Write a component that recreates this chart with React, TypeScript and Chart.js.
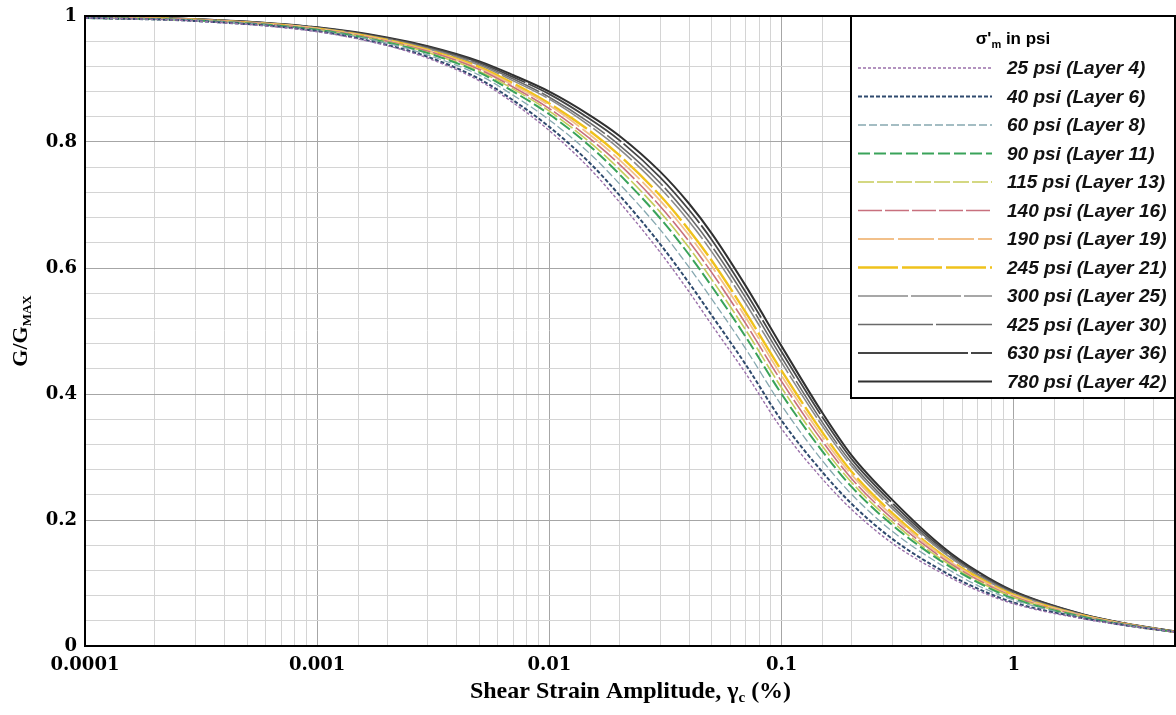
import React, { useEffect, useRef } from 'react';
import { Chart, registerables } from 'chart.js';

Chart.register(...registerables);

// Shear strain amplitude (%) at which values were read
const strains = [0.0001, 0.0003, 0.001, 0.002, 0.003, 0.005, 0.007, 0.01, 0.015, 0.02, 0.03, 0.04, 0.05, 0.07, 0.1, 0.15, 0.2, 0.3, 0.5, 0.7, 1, 2, 3, 5];

// G/Gmax per confining pressure
const g25 = [0.997, 0.992, 0.975, 0.953, 0.933, 0.897, 0.862, 0.818, 0.757, 0.705, 0.625, 0.562, 0.510, 0.433, 0.345, 0.265, 0.217, 0.163, 0.114, 0.088, 0.067, 0.043, 0.033, 0.022];
const g40 = [0.997, 0.992, 0.976, 0.954, 0.935, 0.900, 0.866, 0.824, 0.766, 0.716, 0.638, 0.576, 0.525, 0.447, 0.358, 0.276, 0.226, 0.170, 0.118, 0.091, 0.069, 0.044, 0.033, 0.022];
const g60 = [0.997, 0.993, 0.977, 0.957, 0.938, 0.906, 0.874, 0.835, 0.781, 0.734, 0.661, 0.601, 0.551, 0.472, 0.382, 0.294, 0.241, 0.182, 0.126, 0.096, 0.073, 0.045, 0.034, 0.022];
const g90 = [0.997, 0.993, 0.978, 0.958, 0.941, 0.910, 0.880, 0.844, 0.793, 0.749, 0.679, 0.621, 0.571, 0.491, 0.400, 0.309, 0.253, 0.192, 0.132, 0.101, 0.075, 0.046, 0.034, 0.022];
const g115 = [0.997, 0.993, 0.978, 0.959, 0.942, 0.912, 0.884, 0.849, 0.799, 0.757, 0.689, 0.632, 0.582, 0.502, 0.410, 0.317, 0.260, 0.197, 0.135, 0.103, 0.077, 0.046, 0.034, 0.022];
const g140 = [0.997, 0.994, 0.979, 0.960, 0.944, 0.915, 0.887, 0.853, 0.805, 0.765, 0.698, 0.642, 0.593, 0.512, 0.420, 0.325, 0.266, 0.202, 0.138, 0.105, 0.078, 0.047, 0.035, 0.022];
const g190 = [0.998, 0.994, 0.980, 0.961, 0.945, 0.917, 0.890, 0.858, 0.811, 0.772, 0.707, 0.652, 0.603, 0.522, 0.429, 0.332, 0.272, 0.207, 0.141, 0.107, 0.080, 0.048, 0.035, 0.022];
const g245 = [0.998, 0.994, 0.980, 0.962, 0.946, 0.919, 0.893, 0.861, 0.817, 0.779, 0.715, 0.660, 0.612, 0.530, 0.437, 0.339, 0.277, 0.211, 0.143, 0.109, 0.081, 0.048, 0.035, 0.022];
const g300 = [0.998, 0.994, 0.981, 0.963, 0.948, 0.922, 0.897, 0.868, 0.825, 0.789, 0.727, 0.674, 0.626, 0.544, 0.450, 0.349, 0.286, 0.218, 0.148, 0.112, 0.083, 0.049, 0.035, 0.022];
const g425 = [0.998, 0.995, 0.981, 0.964, 0.949, 0.924, 0.900, 0.871, 0.830, 0.795, 0.735, 0.682, 0.635, 0.553, 0.458, 0.355, 0.291, 0.222, 0.150, 0.114, 0.084, 0.049, 0.036, 0.022];
const g630 = [0.998, 0.995, 0.982, 0.965, 0.951, 0.926, 0.903, 0.876, 0.836, 0.803, 0.744, 0.692, 0.645, 0.562, 0.467, 0.363, 0.297, 0.227, 0.153, 0.116, 0.086, 0.050, 0.036, 0.023];
const g780 = [0.998, 0.995, 0.982, 0.966, 0.952, 0.928, 0.906, 0.880, 0.842, 0.810, 0.753, 0.702, 0.655, 0.572, 0.476, 0.370, 0.303, 0.232, 0.156, 0.118, 0.087, 0.050, 0.036, 0.023];

const seriesValues = [g25, g40, g60, g90, g115, g140, g190, g245, g300, g425, g630, g780];
const seriesLabels = [
  '25 psi (Layer 4)', '40 psi (Layer 6)', '60 psi (Layer 8)', '90 psi (Layer 11)',
  '115 psi (Layer 13)', '140 psi (Layer 16)', '190 psi (Layer 19)', '245 psi (Layer 21)',
  '300 psi (Layer 25)', '425 psi (Layer 30)', '630 psi (Layer 36)', '780 psi (Layer 42)',
];
const xTickLabels = ['0.0001', '0.001', '0.01', '0.1', '1'];
const yTickLabels = ['0', '0.2', '0.4', '0.6', '0.8', '1'];

// styles
const seriesColors = ['#9a70aa', '#2f4a6e', '#86a8b0', '#3aa35a', '#c6cc5a', '#c8707e', '#f2c08a', '#f0c21c', '#8a8a8a', '#6a6a6a', '#454545', '#303030'];
const seriesWidths = [1.4, 2, 1.3, 2, 1.6, 1.6, 1.8, 2.4, 1.6, 1.6, 1.8, 2];
const seriesDashes: number[][] = [[3, 2], [4, 2], [8, 3], [12, 4], [16, 3], [24, 3], [36, 4], [40, 4], [50, 3], [75, 3], [110, 3], []];

const TICK_FONT = { family: '"DejaVu Serif", serif', size: 18, weight: 'bold' as const };
const MAJOR_GRID = '#a6a6a6';
const MINOR_GRID = '#d4d4d4';

const overlayPlugin = {
  id: 'overlay',
  afterDraw(chart: any) {
    const { ctx, chartArea: a } = chart;
    ctx.save();
    ctx.setLineDash([]);
    // plot frame
    ctx.strokeStyle = '#000';
    ctx.lineWidth = 2;
    ctx.strokeRect(a.left, a.top, a.right - a.left - 1, a.bottom - a.top);

    // x axis title with subscript
    const cx = (a.left + a.right) / 2;
    const mainF = 'bold 24px "Liberation Serif", serif';
    const subF = 'bold 15px "Liberation Serif", serif';
    const t1 = 'Shear Strain Amplitude, \u03b3';
    const t2 = 'c';
    const t3 = ' (%)';
    ctx.fillStyle = '#000';
    ctx.textBaseline = 'alphabetic';
    ctx.textAlign = 'left';
    ctx.font = mainF; const w1 = ctx.measureText(t1).width; const w3 = ctx.measureText(t3).width;
    ctx.font = subF; const w2 = ctx.measureText(t2).width;
    const x0 = cx - (w1 + w2 + w3) / 2;
    const by = 698;
    ctx.font = mainF; ctx.fillText(t1, x0, by);
    ctx.font = subF; ctx.fillText(t2, x0 + w1, by + 4);
    ctx.font = mainF; ctx.fillText(t3, x0 + w1 + w2, by);

    // y axis title with subscript
    ctx.save();
    ctx.translate(20, 331);
    ctx.rotate(-Math.PI / 2);
    const yF = 'bold 22px "Liberation Serif", serif';
    const ySubF = 'bold 13px "Liberation Serif", serif';
    ctx.font = yF; const yw1 = ctx.measureText('G/G').width;
    ctx.font = ySubF; const yw2 = ctx.measureText('MAX').width;
    const ys = -(yw1 + yw2) / 2;
    ctx.textBaseline = 'alphabetic';
    ctx.font = yF; ctx.fillText('G/G', ys, 7);
    ctx.font = ySubF; ctx.fillText('MAX', ys + yw1, 11);
    ctx.restore();

    // legend box
    const lx0 = 851, ly0 = a.top, lx1 = a.right - 1, ly1 = 398;
    ctx.fillStyle = '#fff';
    ctx.fillRect(lx0, ly0, lx1 - lx0, ly1 - ly0);
    ctx.strokeStyle = '#000';
    ctx.lineWidth = 2;
    ctx.strokeRect(lx0, ly0, lx1 - lx0, ly1 - ly0);

    // legend title
    const ltF = 'bold 17px "Liberation Sans", Arial, sans-serif';
    const ltSubF = 'bold 11px "Liberation Sans", Arial, sans-serif';
    ctx.fillStyle = '#000';
    ctx.font = ltF; const lw1 = ctx.measureText("\u03c3'").width; const lw3 = ctx.measureText(' in psi').width;
    ctx.font = ltSubF; const lw2 = ctx.measureText('m').width;
    const lx = 1013 - (lw1 + lw2 + lw3) / 2;
    ctx.textBaseline = 'alphabetic';
    ctx.font = ltF; ctx.fillText("\u03c3'", lx, 44);
    ctx.font = ltSubF; ctx.fillText('m', lx + lw1, 48);
    ctx.font = ltF; ctx.fillText(' in psi', lx + lw1 + lw2, 44);

    // legend rows
    ctx.font = 'italic bold 19px "Liberation Sans", Arial, sans-serif';
    ctx.textBaseline = 'middle';
    seriesLabels.forEach((lab, i) => {
      const ry = 68 + i * 28.5;
      ctx.beginPath();
      ctx.strokeStyle = seriesColors[i];
      ctx.lineWidth = seriesWidths[i];
      ctx.setLineDash(seriesDashes[i]);
      ctx.moveTo(858, ry);
      ctx.lineTo(992, ry);
      ctx.stroke();
      ctx.setLineDash([]);
      ctx.fillStyle = '#111';
      ctx.fillText(lab, 1007, ry + 1);
    });
    ctx.restore();
  },
};

const isDecade = (v: number) => {
  const l = Math.log10(v);
  return Math.abs(l - Math.round(l)) < 1e-6;
};
const isFifth = (v: number) => Math.abs(v / 0.2 - Math.round(v / 0.2)) < 1e-6;

export default function App() {
  const ref = useRef<HTMLCanvasElement | null>(null);
  useEffect(() => {
    if (!ref.current) return;
    const datasets = seriesValues.map((vals, i) => ({
      label: seriesLabels[i],
      data: strains.map((s, j) => ({ x: s, y: vals[j] })),
      borderColor: seriesColors[i],
      borderWidth: seriesWidths[i],
      borderDash: seriesDashes[i],
      pointRadius: 0,
      fill: false,
      cubicInterpolationMode: 'monotone' as const,
    }));
    const chart = new Chart(ref.current, {
      type: 'line',
      data: { datasets },
      plugins: [overlayPlugin],
      options: {
        animation: false,
        responsive: false,
        devicePixelRatio: 1,
        layout: { padding: { top: 16, right: 0, left: 0, bottom: 0 } },
        plugins: { legend: { display: false }, tooltip: { enabled: false } },
        scales: {
          x: {
            type: 'logarithmic',
            min: 0.0001,
            max: 5,
            afterFit: (s: any) => { s.height = 69; s.paddingLeft = 0; s.paddingRight = 0; },
            ticks: {
              autoSkip: false,
              maxRotation: 0,
              minRotation: 0,
              padding: 9,
              color: '#000',
              font: TICK_FONT,
              callback: (value: any) => {
                const v = Number(value);
                if (!isDecade(v)) return '';
                const idx = Math.round(Math.log10(v)) + 4;
                return xTickLabels[idx] ?? '';
              },
            },
            grid: {
              drawTicks: false,
              lineWidth: 1,
              color: (c: any) => (c.tick && isDecade(c.tick.value) ? MAJOR_GRID : MINOR_GRID),
            },
            border: { display: true, color: '#000', width: 2 },
          },
          y: {
            type: 'linear',
            min: 0,
            max: 1,
            afterFit: (s: any) => { s.width = 85; s.paddingTop = 0; s.paddingBottom = 0; },
            ticks: {
              stepSize: 0.04,
              autoSkip: false,
              padding: 8,
              color: '#000',
              font: TICK_FONT,
              callback: (value: any) => {
                const v = Number(value);
                if (!isFifth(v)) return '';
                return yTickLabels[Math.round(v / 0.2)] ?? '';
              },
            },
            grid: {
              drawTicks: false,
              lineWidth: 1,
              color: (c: any) => (c.tick && isFifth(c.tick.value) ? MAJOR_GRID : MINOR_GRID),
            },
            border: { display: true, color: '#000', width: 2 },
          },
        },
      } as any,
    });
    return () => chart.destroy();
  }, []);
  return (
    <div style={{ position: 'absolute', left: 0, top: 0, width: 1176, height: 715, background: '#fff' }}>
      <canvas ref={ref} width={1176} height={715} style={{ display: 'block', width: 1176, height: 715 }} />
    </div>
  );
}
